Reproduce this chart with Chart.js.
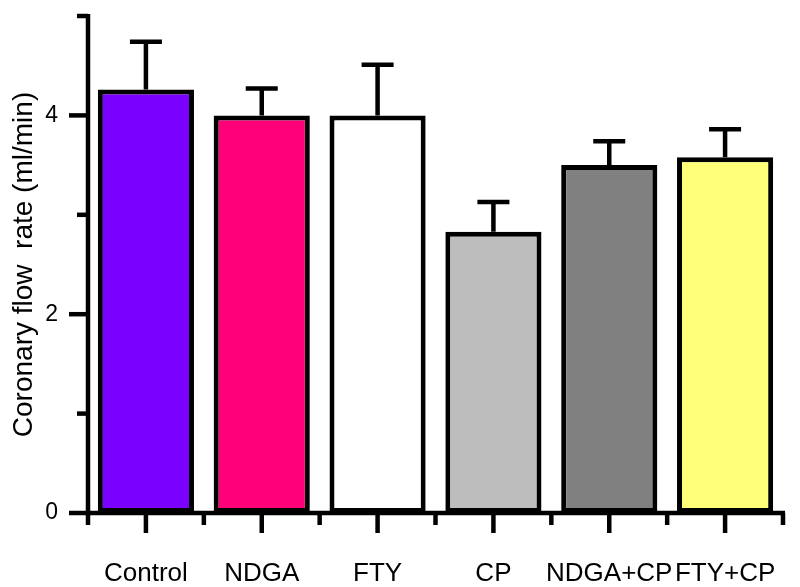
<!DOCTYPE html>
<html>
<head>
<meta charset="utf-8">
<script src="https://cdn.jsdelivr.net/npm/chart.js@4"></script>
<style>
  body { margin: 0; background: #fff; }
</style>
</head>
<body>
<canvas id="myChart" width="800" height="587"></canvas>
<script>
//data
let groups = ["Control", "NDGA", "FTY", "CP", "NDGA+CP", "FTY+CP"];
let flowRate = [4.26, 4.0, 4.0, 2.83, 3.5, 3.58];
let flowSem = [0.48, 0.27, 0.51, 0.30, 0.24, 0.28];
let barColors = ["#7a00ff", "#ff0078", "#ffffff", "#bdbdbd", "#808080", "#ffff78"];
let yTicks = [0, 1, 2, 3, 4, 5];
let yLabelled = [0, 2, 4];

//draws the black axes, tick marks and the upper error whiskers
let axesAndErrors = {
    id: "axesAndErrors",
    afterDatasetsDraw(chart) {
        let ctx = chart.ctx;
        let x = chart.scales.x;
        let y = chart.scales.y;
        let area = chart.chartArea;
        ctx.save();
        ctx.strokeStyle = "#000";
        ctx.lineWidth = 4.5;
        ctx.lineCap = "butt";

        //error bars (upper half only)
        let meta = chart.getDatasetMeta(0);
        meta.data.forEach(function(bar, i) {
            let yBar = y.getPixelForValue(flowRate[i]);
            let yTop = y.getPixelForValue(flowRate[i] + flowSem[i]);
            ctx.beginPath();
            ctx.moveTo(bar.x, yBar);
            ctx.lineTo(bar.x, yTop);
            ctx.moveTo(bar.x - 16, yTop);
            ctx.lineTo(bar.x + 16, yTop);
            ctx.stroke();
        });

        //y axis
        ctx.beginPath();
        ctx.moveTo(area.left, y.getPixelForValue(5) - 2);
        ctx.lineTo(area.left, area.bottom + 2);
        ctx.stroke();
        yTicks.forEach(function(v) {
            let py = y.getPixelForValue(v);
            let len = yLabelled.includes(v) ? 19 : 11;
            ctx.beginPath();
            ctx.moveTo(area.left - len, py);
            ctx.lineTo(area.left, py);
            ctx.stroke();
        });

        //x axis
        let step = x.getPixelForValue(1) - x.getPixelForValue(0);
        ctx.beginPath();
        ctx.moveTo(area.left - 2, area.bottom);
        ctx.lineTo(area.right + 2, area.bottom);
        ctx.stroke();
        groups.forEach(function(g, i) {
            let cx = x.getPixelForValue(i);
            ctx.beginPath();
            ctx.moveTo(cx, area.bottom);
            ctx.lineTo(cx, area.bottom + 20);
            ctx.stroke();
        });
        for (let i = 0; i <= groups.length; i++) {
            let bx = x.getPixelForValue(0) - step / 2 + i * step;
            ctx.beginPath();
            ctx.moveTo(bx, area.bottom);
            ctx.lineTo(bx, area.bottom + 12);
            ctx.stroke();
        }
        ctx.restore();
    }
};

let data = {
    labels: groups,
    datasets: [{
        data: flowRate,
        backgroundColor: barColors,
        borderColor: "#000",
        borderWidth: 5,
        borderSkipped: false,
        barPercentage: 0.83,
        categoryPercentage: 1
    }]
};

let config = {
    type: "bar",
    data: data,
    options: {
        responsive: false,
        animation: false,
        layout: { padding: { top: 16, right: 17, left: 0, bottom: 0 } },
        plugins: {
            legend: { display: false },
            tooltip: { enabled: false }
        },
        scales: {
            x: {
                grid: { display: false, drawTicks: false },
                border: { display: false },
                ticks: {
                    color: "#000",
                    font: { family: "Liberation Sans", size: 26 },
                    padding: 45,
                    maxRotation: 0,
                    autoSkip: false
                },
                afterFit: function(s) {
                    s.height = 74;
                    s.paddingLeft = 0;
                    s.paddingRight = 0;
                }
            },
            y: {
                min: 0,
                max: 5,
                grid: { display: false, drawTicks: false },
                border: { display: false },
                ticks: {
                    stepSize: 1,
                    color: "#000",
                    font: { family: "Liberation Sans", size: 23 },
                    padding: 30,
                    callback: function(v) { return yLabelled.includes(v) ? v : ""; }
                },
                title: {
                    display: true,
                    text: "Coronary flow  rate (ml/min)",
                    color: "#000",
                    font: { family: "Liberation Sans", size: 28 },
                    padding: { top: 7, bottom: 0 }
                },
                afterFit: function(s) {
                    s.width = 88;
                    s.paddingTop = 0;
                    s.paddingBottom = 0;
                }
            }
        }
    },
    plugins: [axesAndErrors]
};

let barChart = new Chart(document.getElementById("myChart"), config);
</script>
</body>
</html>
